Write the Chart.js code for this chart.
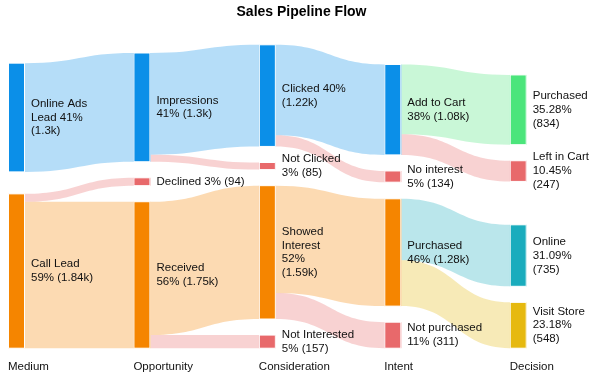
<!DOCTYPE html>
<html>
<head>
<meta charset="utf-8">
<script src="https://cdn.jsdelivr.net/npm/chart.js@4.4.1/dist/chart.umd.min.js"></script>
<style>
  html, body { margin: 0; padding: 0; background: #fff; }
  #wrap { width: 600px; height: 380px; }
</style>
</head>
<body>
<div id="wrap"><canvas id="sankey-chart"></canvas></div>
<script>
// Stages (columns), shown under the diagram
const stageNames = ['Medium', 'Opportunity', 'Consideration', 'Intent', 'Decision'];
const pctDecimals = [0, 0, 0, 0, 2];

// Nodes
const nodeKeys = ['online', 'call', 'impr', 'declined', 'received', 'clicked', 'notClicked', 'showed',
  'notInterested', 'cart', 'noInterest', 'purchasedI', 'notPurchased', 'purchasedD', 'leftCart', 'online2', 'store'];
const nodeLabels = [
  ['Online Ads', 'Lead {p}', '({v})'],
  ['Call Lead', '{p} ({v})'],
  ['Impressions', '{p} ({v})'],
  ['Declined {p} ({v})'],
  ['Received', '{p} ({v})'],
  ['Clicked {p}', '({v})'],
  ['Not Clicked', '{p} ({v})'],
  ['Showed', 'Interest', '{p}', '({v})'],
  ['Not Interested', '{p} ({v})'],
  ['Add to Cart', '{p} ({v})'],
  ['No interest', '{p} ({v})'],
  ['Purchased', '{p} ({v})'],
  ['Not purchased', '{p} ({v})'],
  ['Purchased', '{p}', '({v})'],
  ['Left in Cart', '{p}', '({v})'],
  ['Online', '{p}', '({v})'],
  ['Visit Store', '{p}', '({v})']
];
const nodeColors = ['#0b8fe8', '#f58500', '#0b8fe8', '#e8696b', '#f58500', '#0b8fe8', '#e8696b', '#f58500',
  '#e8696b', '#0b8fe8', '#e8696b', '#f58500', '#e8696b', '#4be57b', '#e8696b', '#1aacbd', '#e6b90f'];

// Flows
const linkFrom = ['online', 'call', 'call', 'impr', 'impr', 'received', 'received', 'clicked', 'clicked',
  'showed', 'showed', 'cart', 'cart', 'purchasedI', 'purchasedI'];
const linkTo = ['impr', 'declined', 'received', 'clicked', 'notClicked', 'showed', 'notInterested', 'cart', 'noInterest',
  'purchasedI', 'notPurchased', 'purchasedD', 'leftCart', 'online2', 'store'];
const linkValues = [1300, 94, 1751, 1215, 85, 1594, 157, 1081, 134, 1283, 311, 834, 247, 735, 548];

const NODE_GAP = 192;      // gap between nodes, in value units
const ITERATIONS = 32;
const NODE_WIDTH = 17;     // px

// relaxation layout, computed in value units; node order inside a column is kept
function layoutSankey() {
  const gap = NODE_GAP;
  const nodes = nodeKeys.map((key, i) => ({ index: i, key, outs: [], ins: [], layer: 0 }));
  const byKey = {};
  nodes.forEach(n => { byKey[n.key] = n; });
  const links = linkValues.map((value, i) => {
    const l = { index: i, source: byKey[linkFrom[i]], target: byKey[linkTo[i]], value };
    l.source.outs.push(l);
    l.target.ins.push(l);
    return l;
  });
  nodes.forEach(n => {
    const vin = n.ins.reduce((s, l) => s + l.value, 0);
    const vout = n.outs.reduce((s, l) => s + l.value, 0);
    n.dy = Math.max(vin, vout);
  });
  let changed = true;
  while (changed) {
    changed = false;
    links.forEach(l => {
      if (l.target.layer < l.source.layer + 1) { l.target.layer = l.source.layer + 1; changed = true; }
    });
  }
  const columns = stageNames.map((_, c) => nodes.filter(n => n.layer === c));
  const height = Math.max(...columns.map(c => c.reduce((s, n) => s + n.dy, 0) + (c.length - 1) * gap));

  const center = n => n.y + n.dy / 2;

  function resolveCollisions() {
    columns.forEach(col => {
      let y0 = 0, node;
      for (let i = 0; i < col.length; i++) {
        node = col[i];
        const dy = y0 - node.y;
        if (dy > 0) node.y += dy;
        y0 = node.y + node.dy + gap;
      }
      let dy = y0 - gap - height;
      if (dy > 0) {
        node.y -= dy;
        y0 = node.y;
        for (let i = col.length - 2; i >= 0; --i) {
          node = col[i];
          dy = node.y + node.dy + gap - y0;
          if (dy > 0) node.y -= dy;
          y0 = node.y;
        }
      }
    });
  }
  function relaxRightToLeft(alpha) {
    columns.slice().reverse().forEach(col => {
      col.forEach(n => {
        if (!n.outs.length) return;
        const y = n.outs.reduce((s, l) => s + center(l.target) * l.value, 0) / n.outs.reduce((s, l) => s + l.value, 0);
        n.y += (y - center(n)) * alpha;
      });
    });
  }
  function relaxLeftToRight(alpha) {
    columns.forEach(col => {
      col.forEach(n => {
        if (!n.ins.length) return;
        const y = n.ins.reduce((s, l) => s + center(l.source) * l.value, 0) / n.ins.reduce((s, l) => s + l.value, 0);
        n.y += (y - center(n)) * alpha;
      });
    });
  }

  columns.forEach(col => col.forEach((n, i) => { n.y = i; }));
  resolveCollisions();
  for (let alpha = 1, k = ITERATIONS; k > 0; k--) {
    alpha *= 0.99;
    relaxRightToLeft(alpha);
    resolveCollisions();
    relaxLeftToRight(alpha);
    resolveCollisions();
  }

  nodes.forEach(n => {
    n.outs.sort((a, b) => a.target.y - b.target.y);
    n.ins.sort((a, b) => a.source.y - b.source.y);
    let sy = n.y, ty = n.y;
    n.outs.forEach(l => { l.sy = sy; sy += l.value; });
    n.ins.forEach(l => { l.ty = ty; ty += l.value; });
  });
  columns.forEach(col => {
    const total = col.reduce((s, n) => s + n.dy, 0);
    col.forEach(n => { n.pct = n.dy / total * 100; });
  });
  return { nodes, links, extent: height };
}

const graph = layoutSankey();

function fmtValue(v) {
  return v >= 1000 ? parseFloat((v / 1000).toFixed(2)) + 'k' : String(v);
}

function withAlpha(hex, a) {
  const r = parseInt(hex.slice(1, 3), 16), g = parseInt(hex.slice(3, 5), 16), b = parseInt(hex.slice(5, 7), 16);
  return `rgba(${r},${g},${b},${a})`;
}

const FONT = '"Helvetica Neue", Helvetica, Arial, sans-serif';

const sankeyPlugin = {
  id: 'sankeyFlows',
  afterDatasetsDraw(chart) {
    const { ctx, scales: { x, y } } = chart;
    ctx.save();
    // flows
    graph.links.forEach(l => {
      const x0 = x.getPixelForValue(l.source.layer) + NODE_WIDTH;
      const x1 = x.getPixelForValue(l.target.layer);
      const xm = (x0 + x1) / 2;
      const a0 = y.getPixelForValue(l.sy), a1 = y.getPixelForValue(l.sy + l.value);
      const b0 = y.getPixelForValue(l.ty), b1 = y.getPixelForValue(l.ty + l.value);
      ctx.beginPath();
      ctx.moveTo(x0, a0);
      ctx.bezierCurveTo(xm, a0, xm, b0, x1, b0);
      ctx.lineTo(x1, b1);
      ctx.bezierCurveTo(xm, b1, xm, a1, x0, a1);
      ctx.closePath();
      ctx.fillStyle = withAlpha(nodeColors[l.target.index], 0.3);
      ctx.fill();
    });
    // nodes
    graph.nodes.forEach(n => {
      const px = x.getPixelForValue(n.layer);
      const top = y.getPixelForValue(n.y), bottom = y.getPixelForValue(n.y + n.dy);
      ctx.fillStyle = nodeColors[n.index];
      ctx.fillRect(px, top, NODE_WIDTH, bottom - top);
      ctx.strokeStyle = '#ffffff';
      ctx.lineWidth = 1;
      ctx.strokeRect(px + 0.5, top, NODE_WIDTH - 1, bottom - top);
    });
    // labels
    ctx.font = '11.5px ' + FONT;
    ctx.fillStyle = '#111';
    ctx.textAlign = 'left';
    ctx.textBaseline = 'middle';
    const lh = 13.8;
    graph.nodes.forEach(n => {
      const p = n.pct.toFixed(pctDecimals[n.layer]) + '%';
      const lines = nodeLabels[n.index].map(t => t.replace('{p}', p).replace('{v}', fmtValue(n.dy)));
      const cy = (y.getPixelForValue(n.y) + y.getPixelForValue(n.y + n.dy)) / 2;
      const px = x.getPixelForValue(n.layer) + NODE_WIDTH + 6;
      lines.forEach((s, i) => {
        ctx.fillText(s, px, cy + (i - (lines.length - 1) / 2) * lh);
      });
    });
    ctx.restore();
  }
};

new Chart(document.getElementById('sankey-chart'), {
  type: 'scatter',
  data: { datasets: [] },
  options: {
    responsive: true,
    maintainAspectRatio: false,
    animation: false,
    layout: { padding: { left: 8, right: 5, top: 0, bottom: -6 } },
    plugins: {
      legend: { display: false },
      tooltip: { enabled: false },
      title: {
        display: true,
        text: 'Sales Pipeline Flow',
        color: '#000',
        font: { family: FONT, size: 14, weight: 'bold' },
        padding: { top: 4, bottom: 24 }
      }
    },
    scales: {
      x: {
        type: 'linear',
        min: 0,
        max: stageNames.length - 1 + 0.68,
        afterBuildTicks: scale => { scale.ticks = stageNames.map((_, i) => ({ value: i })); },
        afterFit: scale => { scale.paddingLeft = 0; },
        ticks: {
          align: 'start',
          padding: 12,
          color: '#111',
          font: { family: FONT, size: 11.5 },
          callback: v => stageNames[v]
        },
        grid: { display: false, drawTicks: false },
        border: { display: false }
      },
      y: {
        type: 'linear',
        display: false,
        reverse: true,
        min: 0,
        max: graph.extent
      }
    }
  },
  plugins: [sankeyPlugin]
});
</script>
</body>
</html>
